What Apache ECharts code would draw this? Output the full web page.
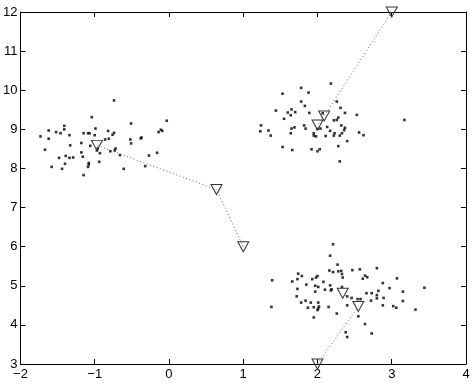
<!DOCTYPE html>
<html>
<head>
<meta charset="utf-8">
<script src="https://cdn.jsdelivr.net/npm/echarts@6/dist/echarts.min.js"></script>
<style>html,body{margin:0;padding:0;background:#fff}#c{width:474px;height:385px}</style>
</head>
<body>
<div id="c"></div>
<script>
// Cluster A (left)
const clusterA = [
  [-0.74,9.74],[-1.04,9.31],[-1.41,9.09],[-1.41,9.00],[-0.51,9.15],[-0.03,9.22],[-1.62,8.97],[-1.73,8.82],
  [-1.52,8.93],[-1.46,8.90],[-1.34,8.85],[-1.15,8.90],[-1.09,8.90],[-1.07,8.90],[-0.99,9.02],[-1.00,8.85],
  [-0.82,8.96],[-0.74,8.91],[-0.76,8.86],[-0.14,8.93],[-0.11,8.99],[-0.09,8.96],[-1.62,8.76],[-0.81,8.76],
  [-0.86,8.74],[-0.52,8.74],[-0.37,8.79],[-0.38,8.77],[-1.18,8.65],[-1.33,8.59],[-0.51,8.64],[-1.67,8.48],
  [-1.06,8.58],[-0.96,8.51],[-0.97,8.46],[-0.79,8.44],[-0.72,8.51],[-0.73,8.46],[-1.18,8.41],[-0.93,8.39],
  [-0.66,8.34],[-0.16,8.40],[-1.39,8.32],[-1.48,8.27],[-1.34,8.27],[-1.29,8.28],[-1.16,8.30],[-0.27,8.33],
  [-1.08,8.14],[-1.08,8.10],[-1.40,8.12],[-0.94,8.17],[-1.58,8.04],[-1.09,8.04],[-1.44,7.99],[-0.61,7.99],
  [-0.32,8.06],[-1.15,7.83]
];
// Cluster B (top right)
const clusterB = [
  [2.18,10.17],[1.78,10.06],[1.88,9.94],[1.53,9.91],[1.78,9.71],[1.83,9.60],[2.26,9.71],[2.31,9.55],
  [1.44,9.48],[1.65,9.51],[1.60,9.43],[1.70,9.44],[1.64,9.36],[1.89,9.42],[2.37,9.42],[2.53,9.37],
  [3.17,9.24],[1.55,9.27],[2.28,9.30],[2.26,9.24],[2.22,9.23],[1.24,9.10],[1.34,8.97],[1.23,8.95],
  [1.37,8.84],[1.82,9.10],[1.84,9.02],[1.65,9.02],[1.69,9.05],[1.64,8.90],[2.32,9.10],[2.37,9.04],
  [2.36,8.98],[2.13,9.06],[2.17,8.96],[2.33,8.90],[2.23,8.90],[2.22,8.84],[2.30,8.84],[2.11,8.83],
  [1.95,8.90],[1.95,8.84],[1.98,8.82],[2.00,9.01],[2.04,9.02],[2.56,8.92],[2.62,8.85],[2.40,8.70],
  [1.53,8.55],[1.66,8.47],[1.92,8.49],[2.03,8.49],[2.00,8.44],[2.28,8.57],[2.07,9.41],[2.30,8.18]
];
// Cluster C (bottom right)
const clusterC = [
  [2.21,6.06],[2.17,5.77],[2.27,5.54],[2.16,5.39],[2.21,5.35],[2.28,5.37],[2.32,5.38],[2.33,5.30],
  [2.34,5.21],[2.47,5.40],[2.57,5.42],[2.80,5.45],[2.64,5.26],[2.67,5.22],[2.61,5.18],[3.07,5.19],
  [1.39,5.14],[1.66,5.11],[1.74,5.31],[1.79,5.25],[1.73,5.17],[1.93,5.17],[1.98,5.21],[2.00,5.25],
  [2.08,5.10],[1.85,5.03],[1.97,5.00],[2.01,4.97],[2.17,5.01],[2.33,4.97],[2.19,4.91],[2.18,4.88],
  [2.10,4.90],[1.73,4.92],[1.97,4.85],[2.88,5.07],[2.97,4.94],[3.15,4.85],[3.44,4.95],[2.82,4.87],
  [2.73,4.81],[2.66,4.81],[2.80,4.76],[2.80,4.68],[2.72,4.62],[2.89,4.69],[2.88,4.50],[3.02,4.48],
  [3.06,4.44],[3.15,4.61],[3.32,4.39],[2.40,4.73],[2.46,4.69],[1.72,4.73],[1.78,4.57],[1.84,4.62],
  [1.91,4.57],[2.01,4.57],[2.02,4.47],[2.01,4.42],[2.00,4.38],[1.87,4.44],[1.95,4.45],[2.15,4.46],
  [1.38,4.46],[1.95,4.19],[2.26,4.29],[2.54,4.66],[2.58,4.66],[2.40,4.50],[2.55,4.22],[2.64,4.02],
  [2.73,3.78],[2.38,3.81],[2.40,3.69]
];
// Centroid trajectories
const pathA = [[1.0,6.0],[0.64,7.46],[-0.97,8.59]];
const pathB = [[3.0,12.0],[2.09,9.34],[2.0,9.11]];
const pathC = [[2.0,3.0],[2.55,4.47],[2.34,4.81]];
const xTicks = [-2,-1,0,1,2,3,4];
const yTicks = [3,4,5,6,7,8,9,10,11,12];

const font = 'Liberation Sans, Arial, Helvetica, sans-serif';
const fmt = v => String(v).replace('-', '\u2212');
const axisCommon = {
  axisLine: {show: true, onZero: false, lineStyle: {color: '#000', width: 1}},
  axisTick: {show: true, inside: true, length: 5, lineStyle: {color: '#000'}},
  splitLine: {show: false}
};
function dotSeries(d) {
  return {type: 'scatter', data: d, symbol: 'rect', symbolSize: 2.6,
    itemStyle: {color: '#000'}, silent: true, animation: false, z: 3};
}
function pathSeries(d) {
  return {type: 'line', data: d, symbol: 'triangle', symbolRotate: 180, symbolSize: [11, 10],
    showSymbol: true, lineStyle: {type: [1, 2.5], color: '#666', width: 1},
    itemStyle: {color: 'rgba(255,255,255,0)', borderColor: '#333', borderWidth: 1},
    animation: false, silent: true, z: 4};
}
const chart = echarts.init(document.getElementById('c'));
chart.setOption({
  backgroundColor: '#fff',
  grid: {left: 20, right: 8, top: 12, bottom: 21, containLabel: false},
  xAxis: [
    Object.assign({type: 'value', min: xTicks[0], max: xTicks[xTicks.length-1], interval: 1, position: 'bottom',
      axisLabel: {color: '#000', fontFamily: font, fontSize: 13, margin: 4, formatter: fmt}}, axisCommon),
    Object.assign({type: 'value', min: xTicks[0], max: xTicks[xTicks.length-1], interval: 1, position: 'top',
      axisLabel: {show: false}}, axisCommon)
  ],
  yAxis: [
    Object.assign({type: 'value', min: yTicks[0], max: yTicks[yTicks.length-1], interval: 1, position: 'left',
      axisLabel: {color: '#000', fontFamily: font, fontSize: 13, margin: 3, formatter: fmt}}, axisCommon),
    Object.assign({type: 'value', min: yTicks[0], max: yTicks[yTicks.length-1], interval: 1, position: 'right',
      axisLabel: {show: false}}, axisCommon)
  ],
  series: [dotSeries(clusterA), dotSeries(clusterB), dotSeries(clusterC),
           pathSeries(pathA), pathSeries(pathB), pathSeries(pathC)]
});
</script>
</body>
</html>
